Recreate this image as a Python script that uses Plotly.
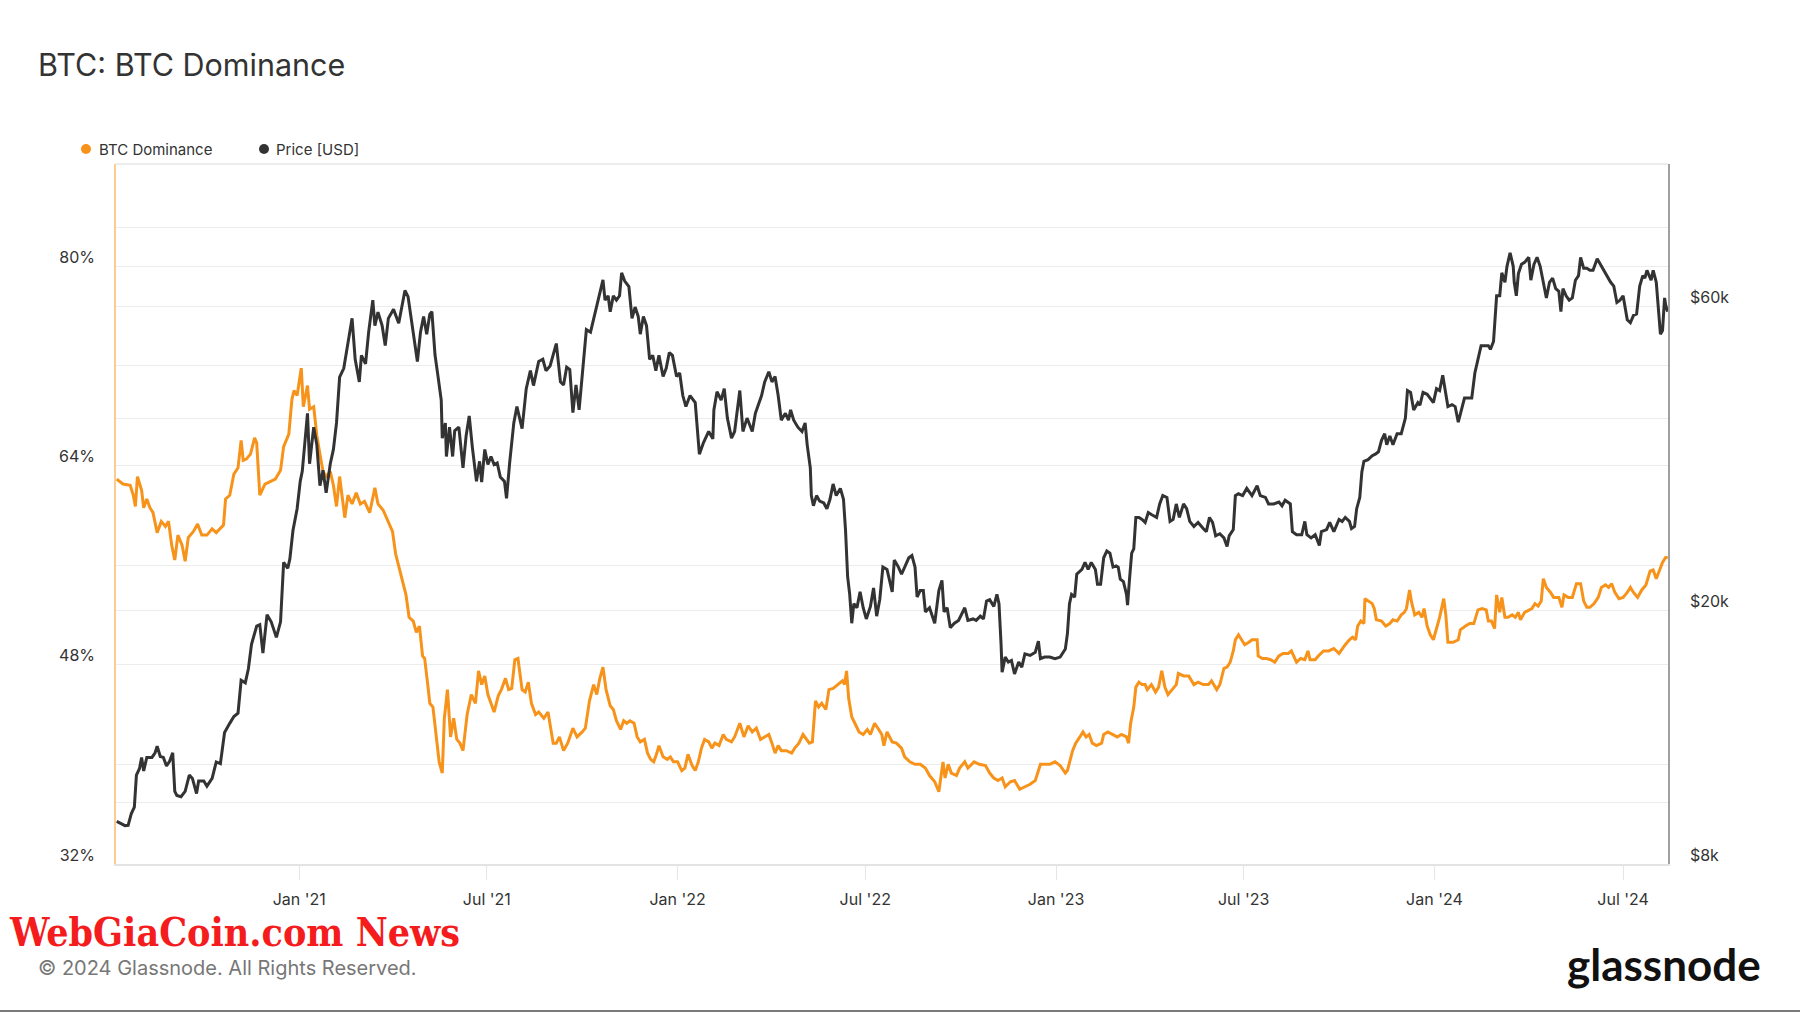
import math
import pandas as pd
import plotly.graph_objects as go

# ---------------- data ----------------
base_date = pd.Timestamp("2021-01-01")

# BTC dominance [%], dates given as days since 2021-01-01
dom_days = [
    -176, -170, -163, -160, -158, -156, -152, -150, -147, -144, -141, -137, -133, -129, -126, -123, -120, -117,
    -113, -110, -107, -102, -98, -94, -89, -84, -80, -73, -71, -67, -63, -59, -56, -54, -51, -47, -43, -41, -38,
    -33, -28, -23, -18, -15, -10, -7, -5, -2, 2, 4, 8, 10, 14, 17, 20, 23, 26, 30, 33, 36, 39, 42, 44, 47, 51,
    55, 59, 63, 68, 73, 76, 81, 86, 90, 93, 97, 100, 103, 106, 110, 113, 116, 119, 121, 124, 126, 129, 132,
    135, 138, 140, 143, 146, 149, 152, 155, 158, 162, 164, 166, 170, 173, 176, 179, 182, 188, 192, 195, 199,
    202, 205, 208, 211, 215, 218, 221, 224, 228, 231, 236, 240, 245, 248, 251, 255, 259, 264, 268, 273, 276,
    280, 284, 287, 290, 293, 296, 300, 303, 306, 310, 313, 316, 319, 323, 326, 329, 333, 336, 339, 342, 345,
    347, 351, 355, 358, 361, 365, 369, 372, 375, 379, 382, 385, 388, 391, 395, 398, 401, 405, 409, 412, 417,
    420, 425, 429, 433, 437,
    441, 445, 449, 453, 456, 459, 462, 465, 470, 475, 478, 482, 486, 489, 492, 495, 498, 501, 504, 508, 511,
    515, 520, 524, 526, 528, 530, 533, 536, 540, 544, 548, 551, 555, 559, 562, 564, 567, 572, 576, 581, 584,
    589, 594, 599, 604, 608, 613, 617, 619, 621, 623, 626, 629, 634, 637, 642, 645, 651, 656, 662, 666, 670,
    674, 678, 681, 686, 690, 695, 700, 705, 710, 712, 715, 719, 724, 729, 734, 739, 741,
    746, 749, 753, 756, 759, 762, 765, 769, 774, 776, 780, 784, 789, 793, 798, 800, 802, 805, 807, 810, 813,
    816, 818, 822, 826, 829, 832, 835, 838, 842, 846, 848, 853, 858, 863, 867, 872, 877, 880, 885, 888, 892,
    895, 898, 901, 903, 906, 909, 912, 916, 919, 924, 925, 929, 933, 937, 941, 945, 949, 954, 957, 962, 966,
    970, 973, 975, 980, 983, 988, 993, 998, 1003, 1006, 1009, 1013, 1016, 1019, 1021, 1024, 1027, 1028, 1031,
    1035, 1037, 1039, 1044, 1048,
    1052, 1055, 1059, 1063, 1066, 1068, 1071, 1073, 1076, 1080, 1083, 1085, 1088, 1091, 1094, 1097, 1100,
    1104, 1106, 1108, 1113, 1118, 1120, 1125, 1129, 1133, 1137, 1141, 1145, 1147, 1150, 1153, 1155, 1158,
    1160, 1163, 1166, 1170, 1173, 1176, 1178, 1182, 1186, 1189, 1192, 1195, 1198, 1200, 1203, 1207, 1210,
    1215, 1218, 1220, 1224, 1228, 1232, 1236, 1239, 1242, 1245, 1249, 1253, 1256, 1260, 1263, 1266, 1269,
    1273, 1277, 1281, 1284, 1287, 1291, 1295, 1299, 1303, 1306, 1309, 1312, 1315, 1318, 1320,
]
dom_pct = [
    62.9, 62.5, 62.4, 61.6, 60.7, 63.1, 62.0, 60.6, 61.3, 60.6, 60.2, 58.6, 59.5, 59.1, 59.5, 57.6, 56.4, 58.4,
    57.6, 56.3, 58.2, 58.7, 59.3, 58.4, 58.4, 58.9, 58.6, 59.2, 61.3, 61.6, 63.3, 63.8, 66.0, 64.4, 64.5, 64.9,
    66.2, 65.8, 61.6, 62.5, 62.7, 62.9, 63.6, 65.5, 66.5, 69.3, 70.0, 69.6, 71.8, 68.7, 70.4, 68.5, 68.7, 66.4,
    64.9, 63.5, 63.1, 63.5, 62.4, 60.7, 63.1, 60.9, 59.8, 61.6, 60.9, 61.8, 60.9, 61.1, 60.2, 62.2, 60.9, 60.4,
    59.5, 58.7, 56.9, 55.5, 54.7, 53.6, 51.8, 51.5, 50.6, 51.1, 48.7, 48.5, 46.4, 44.9, 44.6, 42.6,
    40.2, 39.3, 43.7, 46.0, 42.2, 43.7, 42.0, 41.7, 41.1, 44.0, 44.9, 45.6, 44.9, 47.5, 46.4, 47.1, 45.6, 44.2,
    45.5, 46.0, 46.9, 46.0, 46.1, 48.4, 48.5, 46.0, 45.8, 46.6, 44.9, 44.0, 44.2, 43.7, 44.2, 41.7, 41.7, 42.2,
    41.1, 41.7, 42.9, 42.2, 42.6, 42.9, 45.1, 46.4, 45.6, 46.9, 47.8, 46.0, 44.7, 44.4, 43.5, 42.8, 43.5, 43.3,
    43.5, 43.3, 42.2, 41.8, 42.0, 40.9, 40.4, 40.2, 40.9, 41.5, 40.6, 40.4, 40.6, 40.2, 40.2, 39.5, 39.7, 40.8,
    39.9, 39.5, 40.2, 41.3, 42.0, 41.8, 41.3, 41.7, 41.5, 42.4, 42.0, 41.8, 42.2, 43.3, 42.2, 43.1, 42.6,
    42.9, 42.0, 42.2, 42.4, 41.7, 40.9, 41.5, 41.1, 41.1, 40.9, 41.3, 41.7, 42.4, 42.0, 41.7, 41.8, 45.1, 44.6,
    44.9, 44.4, 46.0, 46.1, 46.4, 46.7, 46.4, 47.5, 45.3, 43.8, 43.3, 42.6, 42.4, 42.8, 42.4, 43.3, 42.8, 42.4,
    41.5, 42.6, 41.8, 41.7, 41.3, 40.6, 40.2, 40.0, 40.0, 39.7, 39.1, 38.6, 37.8, 39.1, 40.2, 38.9, 40.0, 39.3,
    39.1, 39.7, 40.2, 39.7, 40.2, 40.0, 39.9, 39.3, 38.9, 38.7, 38.9, 38.2, 38.6, 38.7, 38.0, 38.2, 38.4, 38.7,
    39.3, 40.0, 40.0, 40.0, 40.2, 39.9, 39.3, 39.5,
    41.1, 41.7, 42.2, 42.6, 42.2, 42.4, 41.7, 41.5, 41.7, 42.4, 42.6, 42.4, 42.2, 42.4, 42.2, 41.7, 43.3, 44.6,
    46.2, 46.6, 46.4, 46.4, 46.0, 46.4, 45.8, 46.2, 47.5, 46.2, 45.6, 46.0, 46.4, 47.3, 47.1, 47.1, 46.4, 46.6,
    46.4, 46.4, 46.7, 46.0, 46.4, 47.7, 47.8, 48.2, 49.1, 50.0, 50.4, 50.0, 49.6, 49.8, 50.0, 50.0, 48.7, 48.5,
    48.5, 48.4, 48.2, 48.7, 48.9, 48.9, 49.1, 48.2, 48.5, 48.4, 49.1, 48.4, 48.4, 48.7, 49.1, 49.1, 49.3, 48.9,
    49.3, 49.6, 50.0, 50.2, 50.0, 51.1, 51.5, 51.3, 53.3, 53.1, 52.9, 52.5, 51.6, 51.5, 51.1,
    51.3, 51.6, 51.5, 52.0, 52.2, 52.5, 54.0, 53.0, 52.0, 52.2, 51.8, 52.5, 51.1, 50.4, 50.0, 50.8, 51.8, 53.3,
    52.0, 49.8, 49.8, 50.0, 50.8, 51.1, 51.3, 51.3, 52.4, 52.5, 52.4, 51.5, 51.5, 50.9, 53.6, 52.2, 53.4, 51.8,
    51.8, 52.0, 51.8, 52.2, 51.6, 52.2, 52.4, 52.5, 52.9, 52.7, 53.1, 54.9, 54.2, 53.8, 53.4, 53.4, 52.6, 53.6,
    53.4, 53.4, 54.5, 54.5, 53.1, 52.6, 52.6, 52.9, 53.4, 54.2, 54.4, 54.2, 54.5, 53.8, 53.3, 53.4, 53.8, 54.2,
    53.8, 53.4, 54.0, 54.4, 55.5, 55.6, 54.9, 55.6, 56.2, 56.6, 56.6,
]

# BTC price [USD], dates given as days since 2021-01-01
price_days = [
    -176, -168, -165, -162, -159, -157, -154, -152, -150, -147, -142, -139, -137, -134, -131, -128, -125, -122,
    -120, -118, -114, -110, -106, -103, -99, -97, -92, -89, -84, -80, -76, -72, -67, -63, -59, -56, -52, -49,
    -46, -41, -38, -35, -31, -27, -22, -18, -15, -11, -9, -6, -2, 1, 3, 6, 8, 10, 14, 17, 20, 23, 26, 30, 33,
    36, 39, 43, 47, 51, 54, 58, 60, 64, 67, 71, 73, 76, 80, 83, 86, 91, 96, 99, 102, 105, 109, 111, 114, 117,
    120, 123, 126, 128,
    131, 134, 137, 138, 141, 142, 145, 148, 150, 154, 156, 158, 161, 164, 167, 171, 174, 176, 179, 182, 185,
    188, 191, 194, 198, 200, 203, 207, 210, 215, 219, 223, 226, 231, 235, 238, 242, 245, 248, 252, 255, 258,
    261, 264, 267, 270, 274, 277, 281, 284, 287, 290, 293, 295, 298, 300, 303, 306, 309, 311, 314, 318, 321,
    324, 327, 329, 332, 335, 338, 341, 344, 347, 351, 354, 357, 360, 364, 367, 370, 373, 377, 382, 386, 390,
    395, 399, 400, 403, 407, 410, 413, 417, 420, 425, 428, 432,
    435, 437, 440, 443, 446, 449, 453, 456, 459, 462, 465, 469, 472, 474, 477, 481, 485, 488, 490, 493, 494,
    496, 499, 502, 506, 509, 512, 515, 518, 522, 525, 527, 529, 531, 533, 535, 538, 541, 544, 547, 551, 554,
    557, 560, 563, 567, 572, 574, 578, 581, 584, 588, 591, 594, 596, 599, 602, 604, 608, 613, 617, 620, 622,
    625, 628, 632, 636, 639, 642, 645, 650, 653, 657, 660, 663, 666, 670, 673, 675, 677, 678, 681, 684, 687,
    690, 694, 697, 700, 705, 710, 713, 715, 719, 724, 729, 734, 739, 741, 743, 745, 748, 750,
    755, 758, 761, 764, 768, 770, 773, 776, 779, 782, 785, 788, 790, 792, 795, 798, 799, 801, 803, 805, 807,
    810, 813, 816, 819, 822, 827, 830, 833, 837, 840, 843, 846, 849, 853, 856, 859, 863, 867, 872, 875, 878,
    881, 884, 888, 892, 895, 897, 901, 903, 906, 910, 914, 919, 924, 927, 932, 935, 940, 945, 948, 951, 956,
    958, 962, 967, 970, 972, 976, 980, 984, 986, 991, 994, 998, 1003, 1006, 1009, 1013, 1015, 1018, 1020,
    1023, 1025, 1027, 1031, 1035, 1038, 1041, 1044, 1047, 1049,
    1052, 1055, 1059, 1063, 1067, 1069, 1072, 1075, 1079, 1081, 1084, 1088, 1091, 1094, 1097, 1100, 1103,
    1106, 1108, 1112, 1115, 1118, 1120, 1124, 1128, 1131, 1134, 1137, 1140, 1143, 1147, 1149, 1152, 1155,
    1158, 1160, 1163, 1165, 1168, 1171, 1172, 1174, 1176, 1179, 1182, 1186, 1188, 1191, 1194, 1197, 1200,
    1203, 1206, 1209, 1212, 1215, 1217, 1219, 1222, 1225, 1228, 1231, 1234, 1236, 1239, 1242, 1245, 1248,
    1252, 1255, 1258, 1262, 1265, 1268, 1271, 1274, 1277, 1281, 1284, 1287, 1290, 1293, 1296, 1298, 1300,
    1304, 1306, 1309, 1311, 1313, 1315, 1317, 1318, 1320,
]
price_usd = [
    9330, 9190, 9200, 9590, 9830, 11030, 11300, 11760, 11200, 11760, 11760, 11960, 12250, 11800, 11760, 11400,
    11600, 11960, 10400, 10250, 10200, 10400, 11030, 10900, 10320, 10800, 10800, 10600, 10900, 11570, 11500,
    12870, 13300, 13630, 13800, 15540, 15400, 16200, 17700, 18900, 19000, 17140, 19700, 19200, 18150, 19200,
    23800, 23300, 24100, 26700, 28900, 31900, 33100, 37600, 40800, 34000, 38800, 36400, 31400, 33200, 30600,
    34000, 35800, 39400, 46500, 48000, 52500, 57500, 49600, 45700, 50300, 48800, 54700, 61400, 56000, 58800,
    56000, 52100, 57500, 59400, 56500, 60000, 63600, 62200, 55600, 53300, 49200, 54700, 57900, 54300, 58400,
    58900,
    50400, 46500, 42800, 37300, 39400, 34900, 38800, 34900, 38300, 38800, 35800, 33500, 37600, 40400, 36100,
    31900, 34300, 31800, 35800, 33900, 34900, 33900, 34100, 32400, 31900, 30000, 34100, 39400, 41800, 38600,
    44600, 47600, 45100, 49200, 49600, 47600, 48400, 50300, 52500, 45700, 45200, 48200, 47800, 40900, 45200,
    41300, 48000, 55200, 54700, 57500, 60400, 63400, 66100, 61400, 62400, 58900, 62400, 61400, 62400, 67800,
    65800, 64500, 57500, 59900, 57900, 54300, 57900, 56000, 49600, 50300, 47600, 50300, 46600, 48000, 50800,
    50300, 46600, 47200, 43500, 41800, 43500, 42400, 35200, 36700, 38200, 37200, 41300, 44100, 42800, 44600,
    40100, 37300, 38200, 44300, 38200, 40100,
    38800, 38200, 40800, 42100, 43500, 45700, 47400, 45700, 46600, 43500, 39800, 40800, 39800, 41300, 39800,
    38800, 38200, 39400, 36400, 33500, 30300, 29200, 30300, 29700, 29500, 28900, 29900, 31600, 30300, 31100,
    29900, 26700, 22600, 21200, 19100, 20500, 20200, 21400, 20200, 19400, 20300, 21700, 19600, 20800, 23400,
    23200, 21400, 24000, 23400, 22800, 23400, 24200, 24400, 23400, 21000, 21500, 21500, 19900, 20200, 19100,
    21500, 22300, 19900, 20200, 18800, 19100, 19300, 19700, 20200, 19300, 19400, 19300, 19600, 19400, 20700,
    20800, 20300, 21200, 20500, 17700, 16000, 16900, 16600, 16700, 15900, 16600, 16300, 17100, 17000, 17200,
    17900, 16800, 16900, 16900, 16800, 16900, 17400, 18400, 20500, 21200, 21000, 22800,
    23200, 23800, 23200, 23800, 23200, 22000, 22000, 24200, 24800, 24600, 23400, 23500, 23400, 22400, 22200,
    21200, 20400, 22500, 24600, 25000, 28000, 28000, 27800, 27500, 28500, 28300, 28000, 29400, 30300, 30100,
    27600, 27800, 29400, 28000, 29400, 28900, 27600, 27100, 27500, 26900, 26600, 28000, 27500, 26200, 26400,
    26000, 25200, 26200, 26800, 30300, 30500, 30300, 31100, 30300, 31400, 30300, 30100, 29400, 29400, 29600,
    29200, 29800, 29400, 26600, 26300, 26300, 27600, 26300, 26000, 26300, 25300, 26600, 26800, 27500, 26600,
    27800, 27600, 28000, 27600, 26900, 27100, 28900, 30100, 33000, 34300, 34500, 35000, 35200, 35500, 37000,
    37900, 36400,
    37600, 36400, 37900, 37900, 40100, 44300, 44000, 41300, 42400, 42000, 44000, 43700, 43100, 42400, 44600,
    44300, 46800, 44000, 41800, 42100, 41800, 39500, 40800, 43100, 43100, 43100, 47200, 49600, 52100, 52100,
    52100, 51400, 52900, 62400, 62400, 67800, 65500, 69400, 72900, 69400, 65500, 62400, 67600, 69900, 70400,
    71700, 66000, 69900, 71700, 69400, 65500, 61900, 65500, 66500, 64000, 63400, 58900, 64000, 62400, 61400,
    61900, 66000, 67100, 71700, 68900, 68900, 68400, 68400, 71300, 69900, 68400, 66500, 65500, 64600, 60900,
    61400, 62400, 57200, 56600, 58100, 58400, 64600, 67100, 66500, 68400, 66000, 68400, 65500, 60400, 54300,
    55000, 61900, 60400, 58900,
]

x_tick_dates = ["2021-01-01", "2021-07-01", "2022-01-01", "2022-07-01",
                "2023-01-01", "2023-07-01", "2024-01-01", "2024-07-01"]
x_tick_text = ["Jan '21", "Jul '21", "Jan '22", "Jul '22", "Jan '23", "Jul '23", "Jan '24", "Jul '24"]
dom_ticks = [32, 40, 48, 56, 64, 72, 80]
dom_tick_text = ["32%", "", "48%", "", "64%", "", "80%"]
price_ticks = [8000, 10000, 20000, 40000, 60000, 80000]
price_tick_text = ["$8k", "", "$20k", "", "$60k", ""]

# ---------------- layout geometry ----------------
W, H = 1800, 1013
L, R, T, B = 116, 1668, 164, 864


def px(x):
    return (x - L) / (R - L)


def py(y):
    return (B - y) / (B - T)


ORANGE = "#f7931a"
DARK = "#333333"
FONT = "Inter, Roboto, sans-serif"

dom_x = base_date + pd.to_timedelta(dom_days, unit="D")
price_x = base_date + pd.to_timedelta(price_days, unit="D")

fig = go.Figure()
fig.add_trace(go.Scatter(x=dom_x, y=dom_pct, mode="lines", name="BTC Dominance",
                         line=dict(color=ORANGE, width=3), yaxis="y", showlegend=False,
                         hoverinfo="skip"))
fig.add_trace(go.Scatter(x=price_x, y=price_usd, mode="lines", name="Price [USD]",
                         line=dict(color=DARK, width=3), yaxis="y2", showlegend=False,
                         hoverinfo="skip"))

x_start = base_date + pd.Timedelta(days=-176.7)
x_end = base_date + pd.Timedelta(days=1320.3)
log_lo = math.log10(8000)
log_hi = log_lo + 700 / 637

GRID = "#ececec"
fig.update_layout(
    width=W, height=H,
    margin=dict(l=L, r=W - R, t=T, b=H - B, pad=0),
    paper_bgcolor="white", plot_bgcolor="white",
    font=dict(family=FONT, color="#333333", size=16),
    showlegend=False,
    xaxis=dict(type="date", range=[x_start, x_end], tickvals=x_tick_dates, ticktext=x_tick_text,
               showgrid=False, zeroline=False, showline=True, linecolor="#e3e3e3", linewidth=1.5,
               ticks="outside", ticklen=14, tickwidth=1, tickcolor="#e6e6e6",
               ticklabelstandoff=6, tickfont=dict(size=16, color="#333333")),
    yaxis=dict(range=[32, 32 + 700 / 12.458], tickvals=dom_ticks, ticktext=dom_tick_text,
               showgrid=True, gridcolor=GRID, gridwidth=1, zeroline=False,
               showline=True, linecolor="#fbcb91", linewidth=1.5,
               ticks="", ticklabelstandoff=16, ticklabelshift=-9,
               tickfont=dict(size=16, color="#333333")),
    yaxis2=dict(type="log", range=[log_lo, log_hi], tickvals=price_ticks, ticktext=price_tick_text,
                overlaying="y", side="right", showgrid=True, gridcolor=GRID, gridwidth=1,
                zeroline=False, showline=True, linecolor="#a0a0a0", linewidth=1.5,
                ticks="", ticklabelstandoff=17, ticklabelshift=-9,
                tickfont=dict(size=16, color="#333333")),
)

shapes = [
    # top border of plot
    dict(type="line", xref="paper", yref="paper", x0=0, x1=1, y0=1, y1=1,
         line=dict(color="#e6e6e6", width=1.5)),
    # bottom page rule
    dict(type="line", xref="paper", yref="paper", x0=px(0), x1=px(W), y0=py(1011), y1=py(1011),
         line=dict(color="#7a7a7a", width=2)),
]
# legend dots
for cx, col in [(86, ORANGE), (264, DARK)]:
    shapes.append(dict(type="circle", xref="paper", yref="paper", xsizemode="pixel", ysizemode="pixel",
                       xanchor=px(cx), yanchor=py(149), x0=-5, x1=5, y0=-5, y1=5,
                       fillcolor=col, line=dict(width=0)))
fig.update_layout(shapes=shapes)

annotations = [
    dict(text="BTC: BTC Dominance", x=px(36), y=py(64), xref="paper", yref="paper",
         xanchor="left", yanchor="middle", showarrow=False,
         font=dict(family=FONT, size=30.5, color="#333333")),
    dict(text="BTC Dominance", x=px(97), y=py(149), xref="paper", yref="paper",
         xanchor="left", yanchor="middle", showarrow=False,
         font=dict(family=FONT, size=15, color="#333333")),
    dict(text="Price [USD]", x=px(274), y=py(149), xref="paper", yref="paper",
         xanchor="left", yanchor="middle", showarrow=False,
         font=dict(family=FONT, size=15, color="#333333")),
    dict(text="WebGiaCoin.com News", x=px(8), y=py(932), xref="paper", yref="paper",
         xanchor="left", yanchor="middle", showarrow=False, borderpad=0,
         font=dict(family="DejaVu Serif Condensed, DejaVu Sans Condensed, serif", size=39,
                   color="#f41c1c", weight="bold")),
    dict(text="© 2024 Glassnode. All Rights Reserved.", x=px(36), y=py(968), xref="paper", yref="paper",
         xanchor="left", yanchor="middle", showarrow=False,
         font=dict(family=FONT, size=20, color="#777777")),
    dict(text="glassnode", x=px(1763), y=py(964), xref="paper", yref="paper",
         xanchor="right", yanchor="middle", showarrow=False,
         font=dict(family="Lato, sans-serif", size=44, color="#111111", weight="bold")),
]
fig.update_layout(annotations=annotations)

fig.write_html("out.html")
